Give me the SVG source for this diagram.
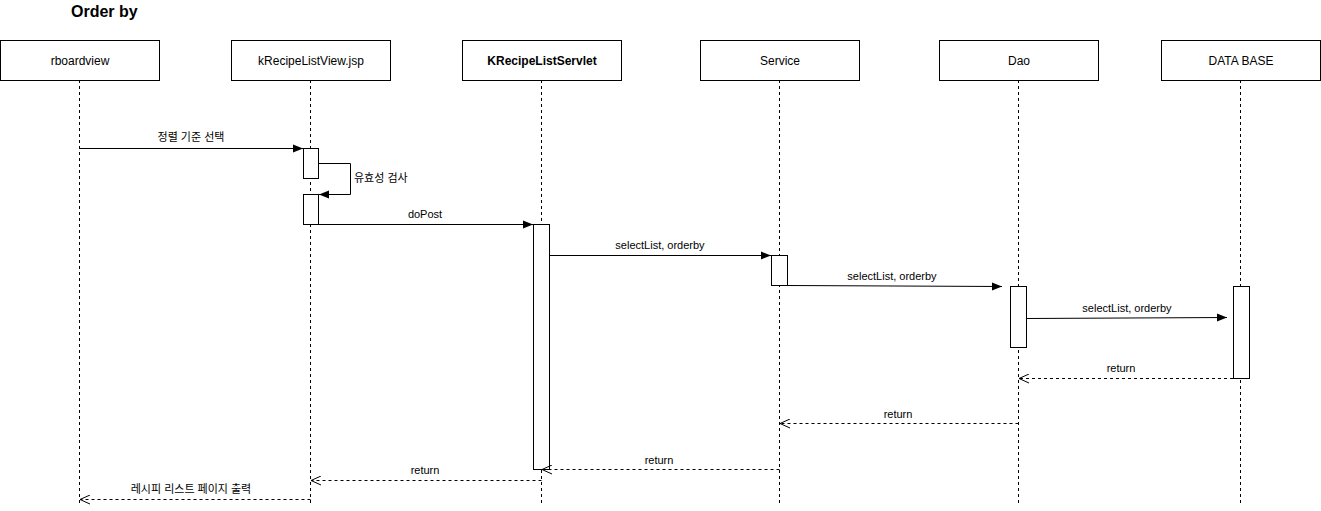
<svg xmlns="http://www.w3.org/2000/svg" width="1321" height="511" viewBox="0 0 1321 511">
  <style>
    .box { fill: #ffffff; stroke: #000000; stroke-width: 1; }
    .act { fill: #ffffff; stroke: #000000; stroke-width: 1; }
    .life { stroke: #000000; stroke-width: 1; stroke-dasharray: 3 3; fill: none; }
    .msg { stroke: #000000; stroke-width: 1; fill: none; }
    .ret { stroke: #000000; stroke-width: 1; fill: none; stroke-dasharray: 3 3; }
    .lbl { font-family: "Liberation Sans", "Noto Sans CJK KR", Arial, sans-serif; font-size: 12px; fill: #000000; text-anchor: middle; }
    .m { font-family: "Liberation Sans", "Noto Sans CJK KR", Arial, sans-serif; font-size: 11px; fill: #000000; text-anchor: middle; }
    .ml { font-family: "Liberation Sans", "Noto Sans CJK KR", Arial, sans-serif; font-size: 11px; fill: #000000; text-anchor: start; }
    .title { font-family: "Liberation Sans", Arial, sans-serif; font-size: 16px; font-weight: bold; fill: #000000; }
  </style>
  <defs>
    <marker id="filled" viewBox="0 0 10 10" refX="10" refY="5" markerWidth="10" markerHeight="10" markerUnits="userSpaceOnUse" orient="auto">
      <path d="M0,1 L10,5 L0,9 Z" fill="#000000"/>
    </marker>
    <marker id="open" viewBox="0 0 10 10" refX="10" refY="5" markerWidth="10" markerHeight="10" markerUnits="userSpaceOnUse" orient="auto">
      <path d="M0,0.5 L10,5 L0,9.5" fill="none" stroke="#000000" stroke-width="1"/>
    </marker>
  </defs>

  <rect width="1321" height="511" fill="#ffffff"/>
  <text class="title" x="71" y="17">Order by</text>

  <!-- lifelines -->
  <g id="lifelines">
    <line class="life" x1="79.5" y1="80" x2="79.5" y2="503"/>
    <line class="life" x1="310.5" y1="80" x2="310.5" y2="503"/>
    <line class="life" x1="541.5" y1="80" x2="541.5" y2="503"/>
    <line class="life" x1="779.5" y1="80" x2="779.5" y2="503"/>
    <line class="life" x1="1018.5" y1="80" x2="1018.5" y2="503"/>
    <line class="life" x1="1240.5" y1="80" x2="1240.5" y2="503"/>
  </g>

  <g id="rboardview">
    <rect class="box" x="0.5" y="40.5" width="159" height="40"/>
    <text class="lbl" x="80" y="65">rboardview</text>
  </g>
  <g id="kRecipeListView">
    <rect class="box" x="231.5" y="40.5" width="159" height="40"/>
    <text class="lbl" x="311" y="65">kRecipeListView.jsp</text>
    <rect class="act" x="303.5" y="148.5" width="15" height="30"/>
    <rect class="act" x="303.5" y="194.5" width="15" height="30"/>
  </g>
  <g id="KRecipeListServlet">
    <rect class="box" x="462.5" y="40.5" width="159" height="40"/>
    <text class="lbl" x="542" y="65" font-weight="bold">KRecipeListServlet</text>
    <rect class="act" x="533.5" y="224.5" width="16" height="245"/>
  </g>
  <g id="Service">
    <rect class="box" x="700.5" y="40.5" width="159" height="40"/>
    <text class="lbl" x="780" y="65">Service</text>
    <rect class="act" x="771.5" y="255.5" width="16" height="30"/>
  </g>
  <g id="Dao">
    <rect class="box" x="939.5" y="40.5" width="159" height="40"/>
    <text class="lbl" x="1019" y="65">Dao</text>
    <rect class="act" x="1010.5" y="286.5" width="16" height="61"/>
  </g>
  <g id="DataBase">
    <rect class="box" x="1161.5" y="40.5" width="159" height="40"/>
    <text class="lbl" x="1241" y="65">DATA BASE</text>
    <rect class="act" x="1233.5" y="286.5" width="16" height="92"/>
  </g>

  <!-- messages -->
  <g id="connectors">
    <line class="msg" x1="80" y1="148.5" x2="303" y2="148.5" marker-end="url(#filled)"/>
    <text class="m" x="191" y="141">정렬 기준 선택</text>

    <polyline class="msg" points="318.5,163.5 350.5,163.5 350.5,194.5 319,194.5" marker-end="url(#filled)"/>
    <text class="ml" x="354" y="182">유효성 검사</text>

    <line class="msg" x1="318.5" y1="224.5" x2="533" y2="224.5" marker-end="url(#filled)"/>
    <text class="m" x="425" y="218">doPost</text>

    <line class="msg" x1="549.5" y1="255.5" x2="771" y2="255.5" marker-end="url(#filled)"/>
    <text class="m" x="660" y="249">selectList, orderby</text>

    <line class="msg" x1="787.5" y1="285.5" x2="1002" y2="286.5" marker-end="url(#filled)"/>
    <text class="m" x="892" y="280">selectList, orderby</text>

    <line class="msg" x1="1026.5" y1="318.5" x2="1227" y2="317.5" marker-end="url(#filled)"/>
    <text class="m" x="1127" y="312">selectList, orderby</text>

    <line class="ret" x1="1233" y1="378.5" x2="1019" y2="378.5" marker-end="url(#open)"/>
    <text class="m" x="1121" y="372">return</text>

    <line class="ret" x1="1018.5" y1="423.5" x2="780" y2="423.5" marker-end="url(#open)"/>
    <text class="m" x="898" y="418">return</text>

    <line class="ret" x1="779.5" y1="469.5" x2="542" y2="469.5" marker-end="url(#open)"/>
    <text class="m" x="659" y="464">return</text>

    <line class="ret" x1="541.5" y1="480.5" x2="311" y2="480.5" marker-end="url(#open)"/>
    <text class="m" x="425" y="474">return</text>

    <line class="ret" x1="310.5" y1="499.5" x2="80" y2="499.5" marker-end="url(#open)"/>
    <text class="m" x="191" y="493">레시피 리스트 페이지 출력</text>
  </g>
</svg>
